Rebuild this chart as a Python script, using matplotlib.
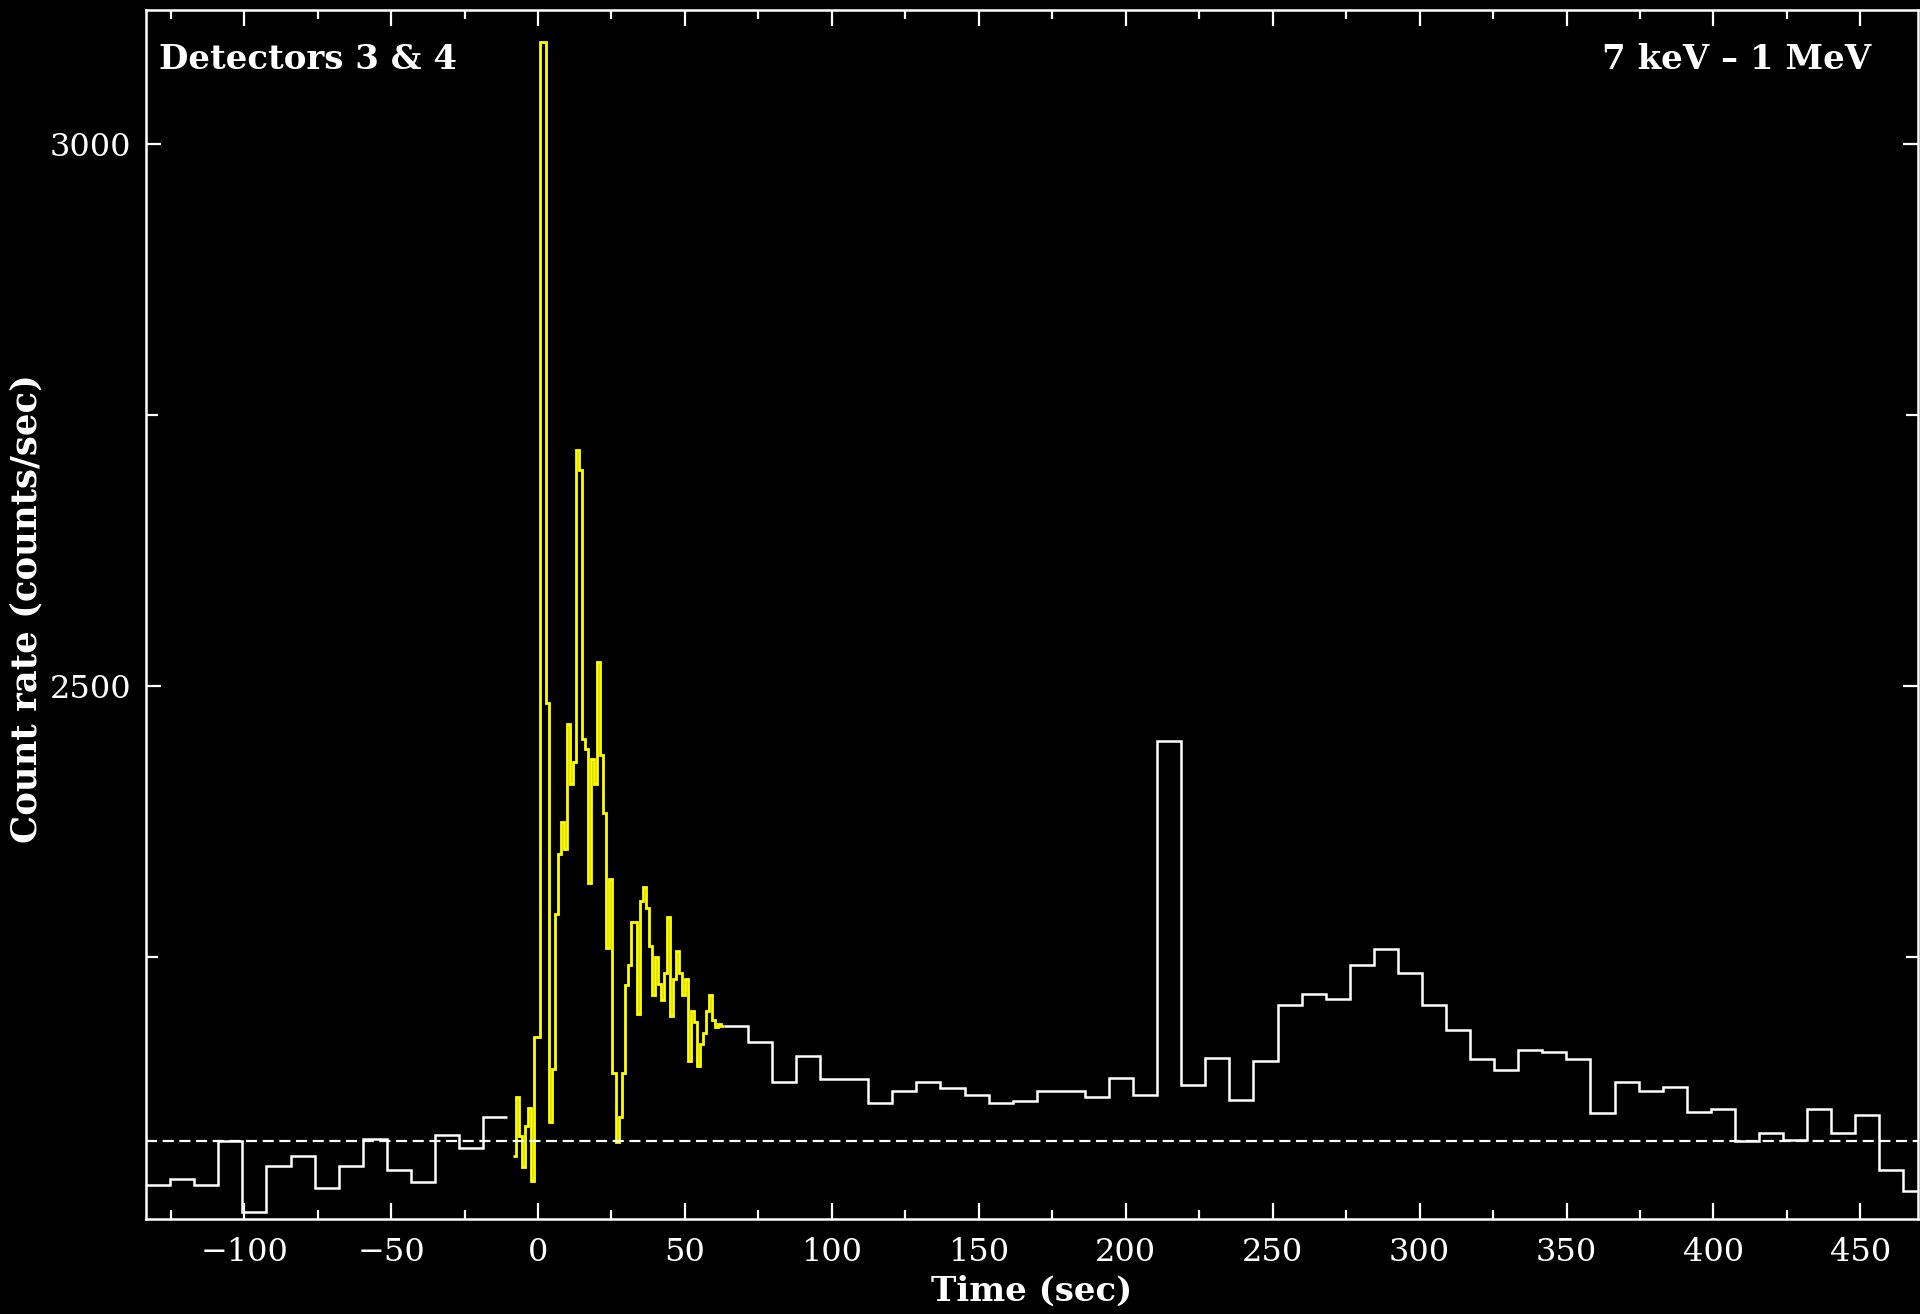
import numpy as np
import matplotlib.pyplot as plt
from matplotlib.ticker import MultipleLocator

# 8.192 s light curve, drawn outside the burst window (white)
coarse_dt = 8.192
pre_start = -133.38
pre_rate = [2040, 2045, 2040, 2080, 2015, 2057, 2066, 2037, 2057, 2082,
            2053, 2042, 2086, 2074, 2102]
post_start = 63.23
post_rate = [2186, 2172, 2135, 2159, 2137, 2137, 2115, 2126, 2135, 2129,
             2123, 2115, 2117, 2126, 2126, 2121, 2138, 2123, 2449, 2132,
             2157, 2118, 2154, 2206, 2216, 2211, 2243, 2257, 2235, 2206,
             2183, 2156, 2146, 2164, 2162, 2156, 2106, 2135, 2126, 2130,
             2107, 2110, 2080, 2088, 2081, 2110, 2088, 2104, 2053, 2034]

# 1.024 s light curve over the burst (yellow)
fine_dt = 1.024
fine_start = -8.45
fine_rate = [2066, 2121, 2085, 2056, 2094, 2111, 2043, 2176, 2176, 3094,
             3094, 2484, 2098, 2147, 2290, 2345, 2375, 2350, 2465, 2410,
             2430, 2718, 2699, 2451, 2442, 2318, 2433, 2410, 2522, 2436,
             2383, 2258, 2322, 2143, 2079, 2102, 2143, 2224, 2243, 2282,
             2282, 2197, 2302, 2315, 2295, 2260, 2215, 2250, 2225, 2210,
             2235, 2287, 2196, 2230, 2256, 2235, 2215, 2230, 2154, 2200,
             2190, 2149, 2170, 2180, 2200, 2215, 2192, 2185, 2188, 2186]

background = 2080


def edges(start, dt, n):
    return start + dt * np.arange(n + 1)


fig = plt.figure(figsize=(19.2, 13.14), dpi=100, facecolor='black')
ax = fig.add_axes([0.0759, 0.0721, 0.9229, 0.9204], facecolor='black')

ax.stairs(pre_rate, edges(pre_start, coarse_dt, len(pre_rate)),
          baseline=None, color='white', lw=1.8)
ax.stairs(post_rate, edges(post_start, coarse_dt, len(post_rate)),
          baseline=None, color='white', lw=1.8)
ax.stairs(fine_rate, edges(fine_start, fine_dt, len(fine_rate)),
          baseline=None, color='#ffff00', lw=2.0)
ax.axhline(background, color='white', lw=1.6, linestyle=(0, (5, 2.5)))

ax.set_xlim(-133.5, 469.5)
ax.set_ylim(2008, 3124)

ax.xaxis.set_major_locator(MultipleLocator(50))
ax.xaxis.set_minor_locator(MultipleLocator(25))
ax.yaxis.set_major_locator(MultipleLocator(500))
ax.yaxis.set_minor_locator(MultipleLocator(250))

ax.tick_params(which='both', direction='in', top=True, right=True,
               colors='white', width=1.6)
ax.tick_params(axis='x', which='major', length=11.5, pad=13, labelsize=23)
ax.tick_params(axis='x', which='minor', length=6.7)
ax.tick_params(axis='y', which='major', length=10.6, pad=10.5, labelsize=23)
ax.tick_params(axis='y', which='minor', length=8.6)
for lab in ax.get_xticklabels() + ax.get_yticklabels():
    lab.set_family('DejaVu Serif')

for sp in ax.spines.values():
    sp.set_color('white')
    sp.set_linewidth(1.8)

ax.set_xlabel('Time (sec)', color='white', family='DejaVu Serif',
              fontsize=24.5, fontweight='bold')
ax.xaxis.set_label_coords(0.5, -0.046)
ax.set_ylabel('Count rate (counts/sec)', color='white', family='DejaVu Serif',
              fontsize=25.5, fontweight='bold')
ax.yaxis.set_label_coords(-0.058, 0.505)

ax.text(0.0075, 0.951, 'Detectors 3 & 4', transform=ax.transAxes,
        color='white', family='DejaVu Serif', fontsize=24.5, fontweight='bold',
        ha='left', va='baseline')
ax.text(0.9737, 0.951, '7 keV \u2013 1 MeV', transform=ax.transAxes,
        color='white', family='DejaVu Serif', fontsize=24.5, fontweight='bold',
        ha='right', va='baseline')

fig.savefig('out.png', dpi=100, facecolor='black')
